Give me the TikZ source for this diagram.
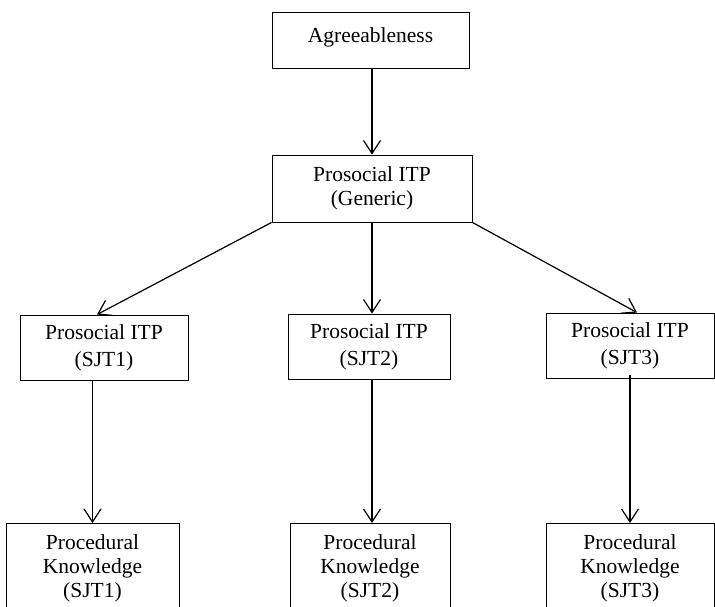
\documentclass[tikz,border=0pt]{standalone}
\usepackage{fontspec}
\setmainfont{Liberation Serif}
\usepackage{tikz}
\usetikzlibrary{positioning, arrows.meta}

\begin{document}
\begin{tikzpicture}[
  x=1pt, y=-1pt,
  font=\fontsize{21.5}{24}\selectfont,
  box/.style={rectangle, draw, line width=0.9pt, align=center, inner sep=2pt},
  itpbox/.style={box, minimum height=65pt, font=\fontsize{21.5}{27}\selectfont},
  procbox/.style={box, anchor=north, minimum height=90pt},
  link/.style={-{Straight Barb[length=13pt, width=17pt, line width=1.2pt]}, line width=1.2pt},
]
\useasboundingbox (0,0) rectangle (715,606);
\clip (0,0) rectangle (715,606);

\node[box, minimum width=197pt, minimum height=56pt, text depth=10pt] (agree) at (370.5,40) {Agreeableness};
\node[box, minimum width=200pt, minimum height=67pt] (generic) at (372,188.5) {Prosocial ITP\\(Generic)};

\node[itpbox, minimum width=168pt] (itpa) at (104,347.5) {Prosocial ITP\\(SJT1)};
\node[itpbox, minimum width=162pt] (itpb) at (369,346.5) {Prosocial ITP\\(SJT2)};
\node[itpbox, minimum width=168pt] (itpc) at (630,345.5) {Prosocial ITP\\(SJT3)};

\node[procbox, minimum width=173pt] (proca) at (92.5,523) {Procedural\\Knowledge\\(SJT1)};
\node[procbox, minimum width=160pt] (procb) at (370,523) {Procedural\\Knowledge\\(SJT2)};
\node[procbox, minimum width=168pt] (procc) at (630,523) {Procedural\\Knowledge\\(SJT3)};

\draw[link] (agree.south -| generic.south) -- (generic.north);
\draw[link] (generic.south west) -- ([xshift=-7pt]itpa.north);
\draw[link] (generic.south) -- (generic.south |- itpb.north);
\draw[link] (generic.south east) -- ([xshift=7pt]itpc.north);

\draw[link] (proca.north |- itpa.south) -- (proca.north);
\draw[link] (generic.south |- itpb.south) -- (generic.south |- procb.north);
\draw[link] ([yshift=3pt]procc.north |- itpc.south) -- (procc.north);
\end{tikzpicture}
\end{document}
